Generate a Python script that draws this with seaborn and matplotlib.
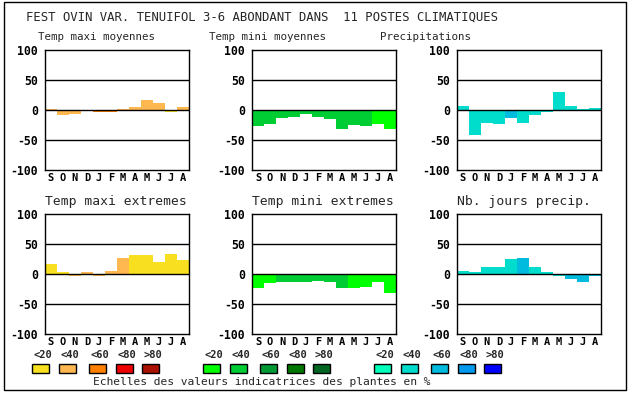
import numpy as np
import matplotlib
matplotlib.use("Agg")
import matplotlib.pyplot as plt
from matplotlib.patches import Rectangle
import seaborn as sns

# --- data ---
months = ["S", "O", "N", "D", "J", "F", "M", "A", "M", "J", "J", "A"]

titles_top = ["Temp maxi moyennes", "Temp mini moyennes", "Precipitations"]
titles_bottom = ["Temp maxi extremes", "Temp mini extremes", "Nb. jours precip."]

tmax_moy = [2, -8, -6, 0, -4, -4, 2, 5, 17, 12, -3, 5]
tmin_moy = [-26, -23, -13, -12, -7, -12, -15, -31, -25, -26, -23, -31]
precip = [7, -41, -21, -23, -14, -21, -8, -4, 30, 7, 2, 3]
tmax_ext = [16, 3, -4, 3, -3, 5, 27, 32, 32, 20, 33, 23]
tmin_ext = [-24, -15, -13, -13, -14, -11, -13, -24, -24, -21, -13, -31]
nb_jours = [5, 3, 12, 12, 25, 27, 12, 3, -3, -8, -13, -3]

# class index (0 = <20 ... 4 = >80) for each bar
lvl_tmax_moy = [1, 1, 1, 1, 2, 2, 1, 1, 1, 1, 0, 1]
lvl_tmin_moy = [1, 1, 1, 1, 1, 1, 1, 1, 1, 1, 0, 0]
lvl_precip = [1, 1, 1, 1, 2, 1, 1, 1, 1, 1, 1, 1]
lvl_tmax_ext = [0, 0, 1, 1, 1, 1, 1, 0, 0, 0, 0, 0]
lvl_tmin_ext = [0, 0, 1, 1, 1, 1, 1, 1, 0, 0, 0, 0]
lvl_nb_jours = [1, 1, 1, 1, 1, 2, 1, 1, 1, 2, 2, 2]

scale_labels = ["<20", "<40", "<60", "<80", ">80"]
warm = ["#F8E020", "#FFB850", "#FF8000", "#EE0000", "#AA1100"]
green = ["#00FF00", "#00CC33", "#009933", "#007700", "#006622"]
blue = ["#00FFBB", "#00DDCC", "#00BBDD", "#0099EE", "#0000FF"]

W, H = 630, 394
sns.set_theme(style="white")
plt.rcParams["font.family"] = ["DejaVu Sans Mono"]

fig = plt.figure(figsize=(W / 100, H / 100), dpi=100)


def fx(x):
    return x / W


def fy(y):
    return 1 - y / H


# outer frame
fig.patches.append(Rectangle((fx(4), fy(390)), fx(622), 388 / H, fill=False,
                             edgecolor="black", linewidth=1, transform=fig.transFigure))

fig.text(fx(262), fy(17), "FEST OVIN VAR. TENUIFOL 3-6 ABONDANT DANS  11 POSTES CLIMATIQUES",
         ha="center", va="center", fontsize=8.8)

lefts = [45, 252, 457]
tops = [50, 214]
panels = [
    [(tmax_moy, lvl_tmax_moy, warm), (tmin_moy, lvl_tmin_moy, green), (precip, lvl_precip, blue)],
    [(tmax_ext, lvl_tmax_ext, warm), (tmin_ext, lvl_tmin_ext, green), (nb_jours, lvl_nb_jours, blue)],
]
title_x_top = [38, 209, 380]

for r in range(2):
    for c in range(3):
        vals, lvls, pal = panels[r][c]
        ax = fig.add_axes([fx(lefts[c]), fy(tops[r] + 120), fx(144), 120 / H])
        x = np.arange(12)
        cols = [pal[k] for k in lvls]
        sns.barplot(x=x, y=vals, hue=x, palette=cols, width=1, linewidth=0,
                    saturation=1, legend=False, ax=ax, zorder=2)
        for yv in (-50, 0, 50):
            ax.axhline(yv, color="black", linewidth=1, zorder=3)
        ax.set_xlim(-0.5, 11.5)
        ax.set_ylim(-100, 100)
        ax.set_yticks([-100, -50, 0, 50, 100])
        ax.set_yticklabels(["-100", "-50", "0", "50", "100"], fontweight="bold", fontsize=8.3)
        ax.set_xticks(x)
        ax.set_xticklabels(months, fontweight="bold", fontsize=7.5)
        ax.tick_params(length=0, pad=2.5, colors="black", axis="x")
        ax.tick_params(length=0, pad=5, colors="black", axis="y")
        ax.set_xlabel("")
        ax.set_ylabel("")
        for s in ax.spines.values():
            s.set_color("black")
            s.set_linewidth(1)
            s.set_zorder(4)
        if r == 0:
            fig.text(fx(title_x_top[c]), fy(37), titles_top[c], ha="left", va="center", fontsize=7.8)
        else:
            fig.text(fx(lefts[c]), fy(201), titles_bottom[c], ha="left", va="center", fontsize=9.4)

# colour scales
swatch_x = [[32, 59, 89, 116, 142], [203, 230, 260, 287, 313], [374, 401, 431, 458, 484]]
for g, pal in enumerate([warm, green, blue]):
    for k in range(5):
        x0 = swatch_x[g][k]
        fig.patches.append(Rectangle((fx(x0), fy(373)), fx(17), 9 / H, facecolor=pal[k],
                                     edgecolor="black", linewidth=1, transform=fig.transFigure))
        fig.text(fx(x0 + 11), fy(355), scale_labels[k], ha="center", va="center",
                 fontsize=7.5, fontweight="bold")

fig.text(fx(262), fy(382), "Echelles des valeurs indicatrices des plantes en %",
         ha="center", va="center", fontsize=8.1)

fig.savefig("out.png", dpi=100)
